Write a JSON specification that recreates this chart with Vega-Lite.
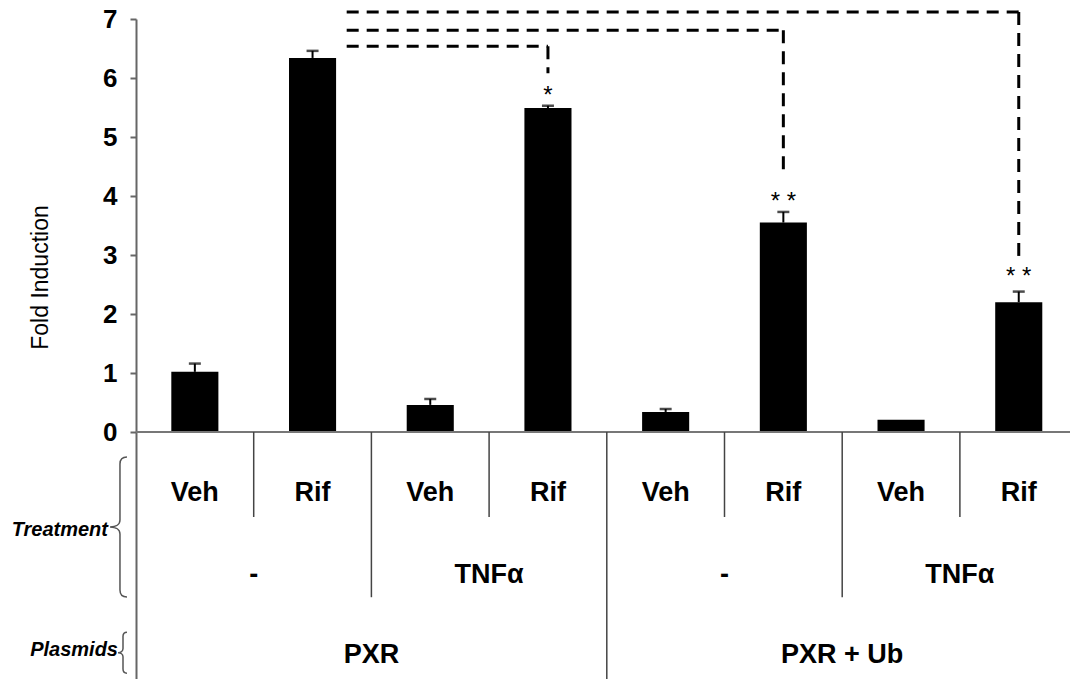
{
  "$schema": "https://vega.github.io/schema/vega-lite/v6.json",
  "autosize": {"type": "none"},
  "padding": {"left": 136, "top": 19, "right": 0, "bottom": 0},
  "width": 934,
  "height": 660,
  "background": "white",
  "config": {"view": {"stroke": null}},
  "datasets": {
    "bars": [
      {"id": 1, "plasmid": "PXR", "cotreatment": "-", "treatment": "Veh", "fold": 1.02, "upper": 1.16},
      {"id": 2, "plasmid": "PXR", "cotreatment": "-", "treatment": "Rif", "fold": 6.34, "upper": 6.46},
      {"id": 3, "plasmid": "PXR", "cotreatment": "TNFα", "treatment": "Veh", "fold": 0.46, "upper": 0.56},
      {"id": 4, "plasmid": "PXR", "cotreatment": "TNFα", "treatment": "Rif", "fold": 5.49, "upper": 5.53},
      {"id": 5, "plasmid": "PXR + Ub", "cotreatment": "-", "treatment": "Veh", "fold": 0.34, "upper": 0.39},
      {"id": 6, "plasmid": "PXR + Ub", "cotreatment": "-", "treatment": "Rif", "fold": 3.55, "upper": 3.73},
      {"id": 7, "plasmid": "PXR + Ub", "cotreatment": "TNFα", "treatment": "Veh", "fold": 0.21, "upper": null},
      {"id": 8, "plasmid": "PXR + Ub", "cotreatment": "TNFα", "treatment": "Rif", "fold": 2.2, "upper": 2.38}
    ],
    "dividers": [
      {"at": 2, "level": "treatment"},
      {"at": 3, "level": "cotreatment"},
      {"at": 4, "level": "treatment"},
      {"at": 5, "level": "plasmid"},
      {"at": 6, "level": "treatment"},
      {"at": 7, "level": "cotreatment"},
      {"at": 8, "level": "treatment"}
    ],
    "cotreatments": [
      {"mid": 2, "label": "-"},
      {"mid": 4, "label": "TNFα"},
      {"mid": 6, "label": "-"},
      {"mid": 8, "label": "TNFα"}
    ],
    "plasmids": [
      {"mid": 3, "label": "PXR"},
      {"mid": 7, "label": "PXR + Ub"}
    ],
    "brackets": [
      {"from": 2, "to": 4, "level": 6.54, "end": 6.08, "stars": "*", "starY": 5.58},
      {"from": 2, "to": 6, "level": 6.81, "end": 4.44, "stars": "* *", "starY": 3.78},
      {"from": 2, "to": 8, "level": 7.12, "end": 2.95, "stars": "* *", "starY": 2.51}
    ]
  },
  "encoding": {
    "x": {
      "field": "id",
      "type": "ordinal",
      "scale": {"domain": [1, 2, 3, 4, 5, 6, 7, 8], "range": [0, 941.6], "paddingInner": 0, "paddingOuter": 0},
      "axis": null
    }
  },
  "layer": [
    {
      "data": {"name": "bars"},
      "mark": {"type": "bar", "color": "black", "width": {"band": 0.4}},
      "encoding": {
        "y": {
          "field": "fold",
          "type": "quantitative",
          "scale": {"domain": [-4.186, 7], "nice": false, "zero": false},
          "axis": {
            "values": [0, 1, 2, 3, 4, 5, 6, 7],
            "format": "d",
            "grid": false,
            "domainColor": "#666",
            "domainWidth": 2,
            "tickColor": "#666",
            "tickWidth": 2,
            "tickSize": 6,
            "labelFont": "Liberation Sans, Arial, sans-serif",
            "labelFontWeight": "bold",
            "labelFontSize": 26,
            "labelColor": "black",
            "labelPadding": 13,
            "title": "Fold Induction",
            "titleFont": "Liberation Sans, Arial, sans-serif",
            "titleFontWeight": "normal",
            "titleFontSize": 23,
            "titleColor": "black",
            "titleAngle": 270,
            "titleX": -96,
            "titleY": 258,
            "titleAlign": "center",
            "titleBaseline": "middle"
          }
        }
      }
    },
    {
      "data": {"name": "bars"},
      "transform": [{"filter": "datum.upper != null"}],
      "mark": {"type": "rule", "color": "black", "strokeWidth": 2},
      "encoding": {
        "y": {"field": "fold", "type": "quantitative"},
        "y2": {"field": "upper"}
      }
    },
    {
      "data": {"name": "bars"},
      "transform": [{"filter": "datum.upper != null"}],
      "mark": {"type": "tick", "color": "black", "size": 12, "thickness": 2.5},
      "encoding": {
        "y": {"field": "upper", "type": "quantitative"}
      }
    },
    {
      "data": {"values": [{}]},
      "mark": {"type": "rule", "color": "#777", "strokeWidth": 2},
      "encoding": {"x": null, "y": {"datum": 0}}
    },
    {
      "data": {"name": "dividers"},
      "transform": [{"filter": "datum.level == 'treatment'"}],
      "mark": {"type": "rule", "color": "#444", "strokeWidth": 1.5},
      "encoding": {
        "x": {"field": "at", "type": "ordinal", "bandPosition": 0},
        "y": {"datum": 0},
        "y2": {"datum": -1.44}
      }
    },
    {
      "data": {"name": "dividers"},
      "transform": [{"filter": "datum.level == 'cotreatment'"}],
      "mark": {"type": "rule", "color": "#444", "strokeWidth": 1.5},
      "encoding": {
        "x": {"field": "at", "type": "ordinal", "bandPosition": 0},
        "y": {"datum": 0},
        "y2": {"datum": -2.8}
      }
    },
    {
      "data": {"name": "dividers"},
      "transform": [{"filter": "datum.level == 'plasmid'"}],
      "mark": {"type": "rule", "color": "#444", "strokeWidth": 1.5},
      "encoding": {
        "x": {"field": "at", "type": "ordinal", "bandPosition": 0},
        "y": {"datum": 0},
        "y2": {"datum": -4.186}
      }
    },
    {
      "data": {"name": "bars"},
      "mark": {"type": "text", "font": "Liberation Sans, Arial, sans-serif", "fontWeight": "bold", "fontSize": 27, "color": "black", "baseline": "middle", "align": "center"},
      "encoding": {
        "y": {"datum": -1.03},
        "text": {"field": "treatment"}
      }
    },
    {
      "data": {"name": "cotreatments"},
      "mark": {"type": "text", "font": "Liberation Sans, Arial, sans-serif", "fontWeight": "bold", "fontSize": 27, "color": "black", "baseline": "middle", "align": "center"},
      "encoding": {
        "x": {"field": "mid", "type": "ordinal", "bandPosition": 0},
        "y": {"datum": -2.42},
        "text": {"field": "label"}
      }
    },
    {
      "data": {"name": "plasmids"},
      "mark": {"type": "text", "font": "Liberation Sans, Arial, sans-serif", "fontWeight": "bold", "fontSize": 27, "color": "black", "baseline": "middle", "align": "center"},
      "encoding": {
        "x": {"field": "mid", "type": "ordinal", "bandPosition": 0},
        "y": {"datum": -3.78},
        "text": {"field": "label"}
      }
    },
    {
      "data": {"values": [{"label": "Treatment"}]},
      "mark": {"type": "text", "font": "Liberation Sans, Arial, sans-serif", "fontWeight": "bold", "fontStyle": "italic", "fontSize": 20, "color": "black", "baseline": "middle", "align": "right", "dx": -28},
      "encoding": {
        "x": {"datum": 1, "type": "ordinal", "bandPosition": 0},
        "y": {"datum": -1.66},
        "text": {"field": "label"}
      }
    },
    {
      "data": {"values": [{"label": "Plasmids"}]},
      "mark": {"type": "text", "font": "Liberation Sans, Arial, sans-serif", "fontWeight": "bold", "fontStyle": "italic", "fontSize": 20, "color": "black", "baseline": "middle", "align": "right", "dx": -18},
      "encoding": {
        "x": {"datum": 1, "type": "ordinal", "bandPosition": 0},
        "y": {"datum": -3.69},
        "text": {"field": "label"}
      }
    },
    {
      "data": {"values": [{"brace": "Treatment"}]},
      "mark": {"type": "point", "filled": false, "stroke": "#555", "strokeWidth": 1.5, "opacity": 1, "size": 19600,
        "shape": "M -0.129 -1 C -0.2 -1 -0.229 -0.97 -0.229 -0.9 L -0.229 -0.1 C -0.229 -0.03 -0.3 0 -0.371 0 C -0.3 0 -0.229 0.03 -0.229 0.1 L -0.229 0.9 C -0.229 0.97 -0.2 1 -0.129 1"},
      "encoding": {
        "x": {"datum": 1, "type": "ordinal", "bandPosition": 0},
        "y": {"datum": -1.61}
      }
    },
    {
      "data": {"values": [{"brace": "Plasmids"}]},
      "mark": {"type": "point", "filled": false, "stroke": "#555", "strokeWidth": 1.5, "opacity": 1, "size": 1681,
        "shape": "M -0.44 -1 C -0.55 -1 -0.634 -0.92 -0.634 -0.8 L -0.634 -0.2 C -0.634 -0.08 -0.75 0 -0.878 0 C -0.75 0 -0.634 0.08 -0.634 0.2 L -0.634 0.8 C -0.634 0.92 -0.55 1 -0.44 1"},
      "encoding": {
        "x": {"datum": 1, "type": "ordinal", "bandPosition": 0},
        "y": {"datum": -3.74}
      }
    },
    {
      "data": {"name": "brackets"},
      "mark": {"type": "rule", "color": "black", "strokeWidth": 3, "strokeDash": [12, 8]},
      "encoding": {
        "x": {"field": "from", "type": "ordinal", "bandPosition": 0.79},
        "x2": {"field": "to", "bandPosition": 0.5},
        "y": {"field": "level", "type": "quantitative"}
      }
    },
    {
      "data": {"name": "brackets"},
      "mark": {"type": "rule", "color": "black", "strokeWidth": 3, "strokeDash": [13, 8]},
      "encoding": {
        "x": {"field": "to", "type": "ordinal"},
        "y": {"field": "level", "type": "quantitative"},
        "y2": {"field": "end"}
      }
    },
    {
      "data": {"name": "brackets"},
      "mark": {"type": "text", "font": "Liberation Sans, Arial, sans-serif", "fontSize": 24, "color": "black", "baseline": "alphabetic", "align": "center"},
      "encoding": {
        "x": {"field": "to", "type": "ordinal"},
        "y": {"field": "starY", "type": "quantitative"},
        "text": {"field": "stars"}
      }
    }
  ]
}
